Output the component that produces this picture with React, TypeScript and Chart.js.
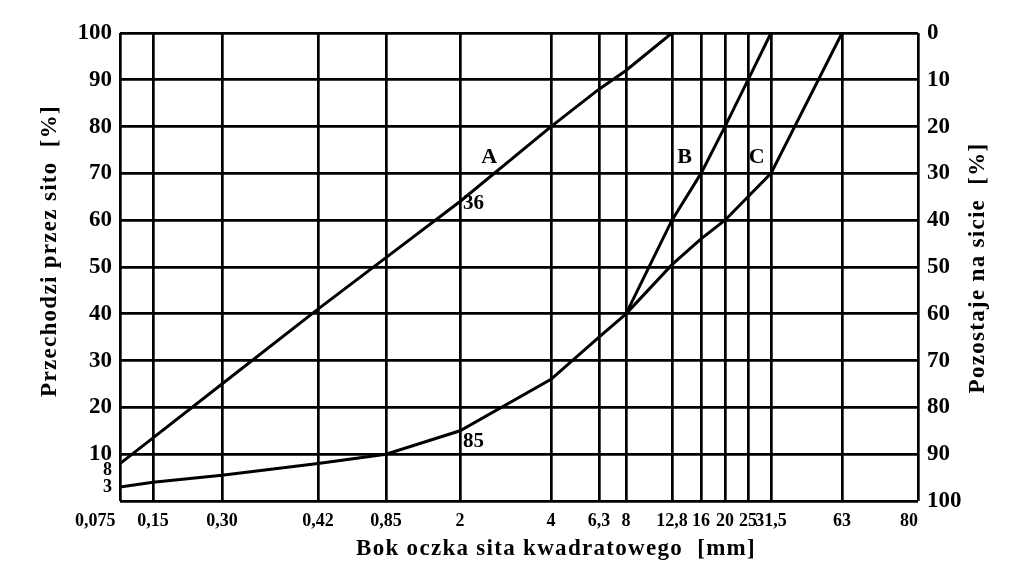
import React, { useEffect, useRef } from 'react';
import { Chart, LinearScale, registerables } from 'chart.js';

// ---- Sieve axis (printed grading-chart scale) ----
const SIEVE_SIZES = [0.075, 0.15, 0.3, 0.42, 0.85, 2, 4, 6.3, 8, 12.8, 16, 20, 25, 31.5, 63, 80];
const SIEVE_LABELS = ['0,075', '0,15', '0,30', '0,42', '0,85', '2', '4', '6,3', '8', '12,8', '16', '20', '25', '31,5', '63', '80'];
// relative position of each sieve along the printed axis (axis geometry of the original chart)
const SIEVE_AXIS_STOPS = [0, 0.0414, 0.1278, 0.2481, 0.3333, 0.4261, 0.5401, 0.6003, 0.6341, 0.6917, 0.7281, 0.7581, 0.787, 0.8158, 0.9048, 1];

// ---- Grading curves: % passing at each sieve ----
const CURVE_A_SIZES = [0.075, 0.15, 0.3, 0.42, 0.85, 2, 4, 6.3, 8, 12.8];
const CURVE_A_PASSING = [8, 13.5, 25, 41, 52, 64, 80, 88, 92, 100];
const CURVE_B_SIZES = [8, 12.8, 16, 20, 25, 31.5];
const CURVE_B_PASSING = [40, 60, 70, 80, 90, 100];
const CURVE_C_SIZES = [0.075, 0.15, 0.3, 0.42, 0.85, 2, 4, 6.3, 8, 12.8, 16, 20, 25, 31.5, 63];
const CURVE_C_PASSING = [3, 4, 5.5, 8, 10, 15, 26, 35, 40, 50.5, 56, 60, 65, 70, 100];

// ---- Y ticks ----
const PASSING_TICKS = [0, 3, 8, 10, 20, 30, 40, 50, 60, 70, 80, 90, 100];
const MARKED_START_TICKS = [3, 8];
const RETAINED_TICKS = [0, 10, 20, 30, 40, 50, 60, 70, 80, 90, 100];

// ---- Annotations ----
const CURVE_NAMES = ['A', 'B', 'C'];
const CURVE_NAME_SIZES = [2.5, 14.1, 27.3];
const CURVE_NAME_PASSING = [73.5, 73.5, 73.5];
const NOTE_TEXTS = ['36', '85'];
const NOTE_SIZES = [2, 2];
const NOTE_PASSING = [63.5, 12.7];

const X_TITLE = 'Bok oczka sita kwadratowego  [mm]';
const Y_LEFT_TITLE = 'Przechodzi przez sito  [%]';
const Y_RIGHT_TITLE = 'Pozostaje na sicie  [%]';

const FONT = "'Liberation Serif', 'DejaVu Serif', serif";

function sieveFraction(v: number): number {
  const s = SIEVE_SIZES;
  const f = SIEVE_AXIS_STOPS;
  if (v <= s[0]) return f[0];
  for (let i = 0; i < s.length - 1; i++) {
    if (v <= s[i + 1]) {
      const t = Math.log(v / s[i]) / Math.log(s[i + 1] / s[i]);
      return f[i] + t * (f[i + 1] - f[i]);
    }
  }
  return f[f.length - 1];
}

function sieveFromFraction(fr: number): number {
  const s = SIEVE_SIZES;
  const f = SIEVE_AXIS_STOPS;
  if (fr <= f[0]) return s[0];
  for (let i = 0; i < f.length - 1; i++) {
    if (fr <= f[i + 1]) {
      const t = (fr - f[i]) / (f[i + 1] - f[i]);
      return s[i] * Math.pow(s[i + 1] / s[i], t);
    }
  }
  return s[s.length - 1];
}

class SieveScale extends LinearScale {
  static id = 'sieve';
  determineDataLimits() {
    (this as any).min = SIEVE_SIZES[0];
    (this as any).max = SIEVE_SIZES[SIEVE_SIZES.length - 1];
  }
  buildTicks() {
    return SIEVE_SIZES.map((value) => ({ value }));
  }
  getPixelForValue(value: number) {
    return (this as any).getPixelForDecimal(sieveFraction(value));
  }
  getValueForPixel(pixel: number) {
    return sieveFromFraction((this as any).getDecimalForPixel(pixel));
  }
}

Chart.register(...registerables, SieveScale as any);

const X_TICK_TEXT = SIEVE_LABELS.map((l, i) => {
  if (i === 0) return l + '           ';
  if (i === SIEVE_LABELS.length - 1) return l + '    ';
  return l;
});

const toPoints = (xs: number[], ys: number[]) => xs.map((x, i) => ({ x, y: ys[i] }));

const notesPlugin = {
  id: 'gradingNotes',
  afterDatasetsDraw(chart: any) {
    const { ctx } = chart;
    const x = chart.scales.x;
    const y = chart.scales.y;
    ctx.save();
    ctx.fillStyle = '#000';
    ctx.textBaseline = 'middle';
    ctx.textAlign = 'center';
    ctx.font = `bold 22px ${FONT}`;
    CURVE_NAMES.forEach((t, i) => {
      ctx.fillText(t, x.getPixelForValue(CURVE_NAME_SIZES[i]), y.getPixelForValue(CURVE_NAME_PASSING[i]));
    });
    ctx.textAlign = 'left';
    ctx.font = `bold 21px ${FONT}`;
    NOTE_TEXTS.forEach((t, i) => {
      ctx.fillText(t, x.getPixelForValue(NOTE_SIZES[i]) + 3, y.getPixelForValue(NOTE_PASSING[i]));
    });
    ctx.restore();
  },
};

const titlesPlugin = {
  id: 'axisTitles',
  afterDraw(chart: any) {
    const { ctx, chartArea: a } = chart;
    const midX = (a.left + a.right) / 2;
    const midY = (a.top + a.bottom) / 2;
    ctx.save();
    ctx.fillStyle = '#000';
    ctx.font = `bold 23px ${FONT}`;
    try { (ctx as any).letterSpacing = '1.3px'; } catch (e) { /* ignore */ }
    ctx.textAlign = 'center';
    ctx.textBaseline = 'middle';
    ctx.fillText(X_TITLE, midX + 37, a.bottom + 48);

    ctx.save();
    ctx.translate(a.left - 70, midY - 16);
    ctx.rotate(-Math.PI / 2);
    ctx.fillText(Y_LEFT_TITLE, 0, 0);
    ctx.restore();

    ctx.save();
    ctx.translate(a.right + 60, midY + 1);
    ctx.rotate(-Math.PI / 2);
    ctx.fillText(Y_RIGHT_TITLE, 0, 0);
    ctx.restore();

    ctx.restore();
  },
};

export default function App() {
  const ref = useRef<HTMLCanvasElement>(null);

  useEffect(() => {
    if (!ref.current) return;
    const lineStyle = {
      borderColor: '#000',
      backgroundColor: '#000',
      borderWidth: 3,
      pointRadius: 0,
      tension: 0,
      fill: false,
    };
    const chart = new Chart(ref.current, {
      type: 'line',
      data: {
        datasets: [
          { label: 'A', data: toPoints(CURVE_A_SIZES, CURVE_A_PASSING), ...lineStyle },
          { label: 'B', data: toPoints(CURVE_B_SIZES, CURVE_B_PASSING), ...lineStyle },
          { label: 'C', data: toPoints(CURVE_C_SIZES, CURVE_C_PASSING), ...lineStyle },
        ],
      },
      options: {
        animation: false,
        responsive: false,
        devicePixelRatio: 1,
        layout: { padding: { top: 33, left: 0, right: 0, bottom: 0 } },
        plugins: {
          legend: { display: false },
          tooltip: { enabled: false },
        },
        scales: {
          x: {
            type: 'sieve' as any,
            position: 'bottom',
            afterFit: (s: any) => { s.height = 77; },
            grid: { color: '#000', lineWidth: 2.7, drawTicks: false },
            border: { display: false },
            ticks: {
              autoSkip: false,
              maxRotation: 0,
              minRotation: 0,
              padding: 10,
              color: '#000',
              font: { family: FONT, size: 18, weight: 'bold' },
              callback: (_v: any, i: number) => X_TICK_TEXT[i],
            },
          },
          y: {
            type: 'linear',
            position: 'left',
            min: 0,
            max: 100,
            afterBuildTicks: (s: any) => { s.ticks = PASSING_TICKS.map((value) => ({ value })); },
            afterFit: (s: any) => { s.width = 120; },
            grid: {
              color: (c: any) => (c.tick && MARKED_START_TICKS.includes(c.tick.value) ? 'rgba(0,0,0,0)' : '#000'),
              lineWidth: 2.7,
              drawTicks: false,
            },
            border: { display: false },
            ticks: {
              autoSkip: false,
              padding: 8,
              color: '#000',
              font: (c: any) => {
                const v = c.tick ? c.tick.value : null;
                if (v === 8) return { family: FONT, size: 18, weight: 'bold', lineHeight: 0.75 };
                if (v === 3) return { family: FONT, size: 18, weight: 'bold' };
                return { family: FONT, size: 23, weight: 'bold' };
              },
              callback: (v: any) => (v === 0 ? '' : v === 8 ? ['', '8'] : String(v)),
            },
          },
          y2: {
            type: 'linear',
            position: 'right',
            min: 0,
            max: 100,
            reverse: true,
            afterBuildTicks: (s: any) => { s.ticks = RETAINED_TICKS.map((value) => ({ value })); },
            afterFit: (s: any) => { s.width = 106; },
            grid: { display: false, drawTicks: false },
            border: { display: false },
            ticks: {
              autoSkip: false,
              padding: 9,
              color: '#000',
              font: { family: FONT, size: 23, weight: 'bold' },
            },
          },
        },
      } as any,
      plugins: [notesPlugin, titlesPlugin],
    });
    return () => chart.destroy();
  }, []);

  return (
    <div style={{ position: 'absolute', left: 0, top: 0, width: 1024, height: 578, background: '#fff' }}>
      <canvas ref={ref} width={1024} height={578} style={{ display: 'block' }} />
    </div>
  );
}
